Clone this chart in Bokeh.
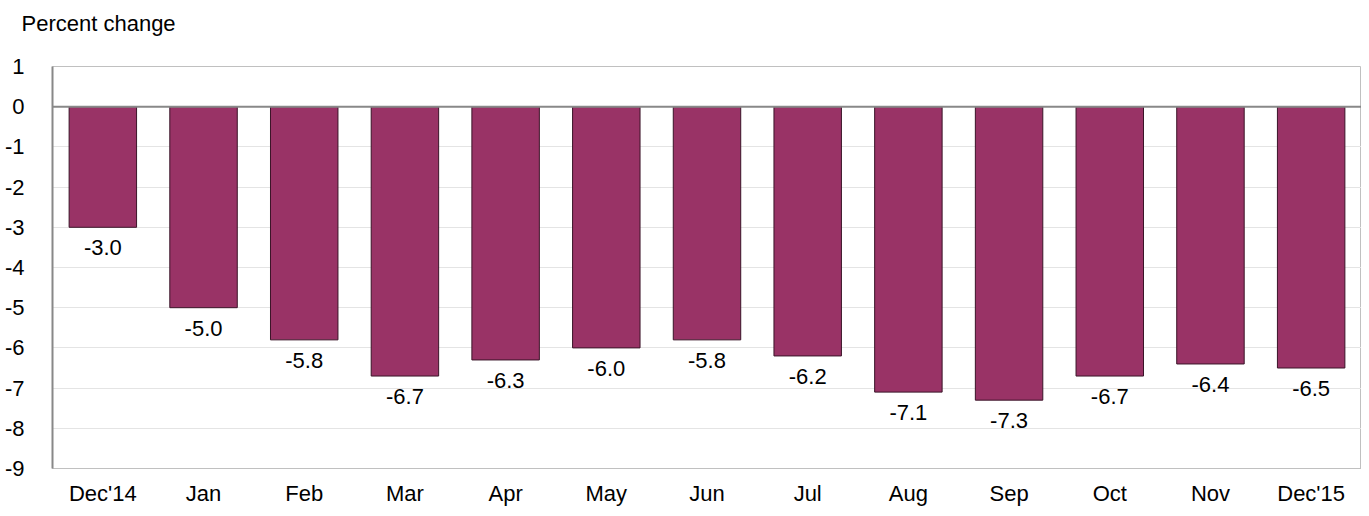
from bokeh.plotting import figure
from bokeh.models import ColumnDataSource, Range1d, FactorRange, Span, Title, FixedTicker
from bokeh.core.properties import value
from bokeh.embed import file_html
from bokeh.resources import INLINE

months = ["Dec'14", "Jan", "Feb", "Mar", "Apr", "May", "Jun", "Jul", "Aug", "Sep", "Oct", "Nov", "Dec'15"]
changes = [-3.0, -5.0, -5.8, -6.7, -6.3, -6.0, -5.8, -6.2, -7.1, -7.3, -6.7, -6.4, -6.5]
labels = ["%.1f" % v for v in changes]
y_ticks = [1, 0, -1, -2, -3, -4, -5, -6, -7, -8, -9]

FONT = "Liberation Sans"
FS = "22px"

src = ColumnDataSource(dict(m=months, v=changes, lab=labels))

p = figure(width=1361, height=508, x_range=FactorRange(*months, range_padding=0),
           y_range=Range1d(-9, 1), output_backend="svg", toolbar_location=None,
           min_border_left=52, min_border_right=0, min_border_top=66, min_border_bottom=30)

p.add_layout(Title(text="Percent change\n ", text_font=FONT, text_font_size=FS,
                   text_font_style="normal", text_color="#000000", align="left",
                   offset=-31, standoff=12), "above")

p.vbar(x="m", top="v", bottom=0, width=0.67, source=src,
       fill_color="#993366", line_color="#3a1428", line_width=1)

p.text(x="m", y="v", text="lab", source=src, y_offset=13, text_align="center",
       text_baseline="top", text_font=value(FONT), text_font_size=FS, text_color="#000000")

p.add_layout(Span(location=0, dimension="width", line_color="#888888", line_width=2))

p.yaxis.ticker = FixedTicker(ticks=y_ticks)
p.yaxis.major_label_overrides = {t: str(t) for t in y_ticks}
p.yaxis.major_label_text_font = FONT
p.yaxis.major_label_text_font_size = FS
p.yaxis.major_label_text_color = "#000000"
p.yaxis.axis_line_color = "#888888"
p.yaxis.axis_line_width = 2
p.yaxis.major_tick_line_color = None
p.yaxis.minor_tick_line_color = None
p.yaxis.major_label_standoff = 22

p.xaxis.major_label_text_font = FONT
p.xaxis.major_label_text_font_size = FS
p.xaxis.major_label_text_color = "#000000"
p.xaxis.axis_line_color = "#c0c0c0"
p.xaxis.major_tick_line_color = None
p.xaxis.minor_tick_line_color = None
p.xaxis.major_label_standoff = 6

p.xgrid.grid_line_color = None
p.ygrid.grid_line_color = "#e4e4e4"
p.ygrid.grid_line_width = 1
p.outline_line_color = "#c0c0c0"
p.outline_line_width = 1
p.background_fill_color = "#ffffff"
p.border_fill_color = "#ffffff"

open("out.html", "w").write(file_html(p, INLINE))
